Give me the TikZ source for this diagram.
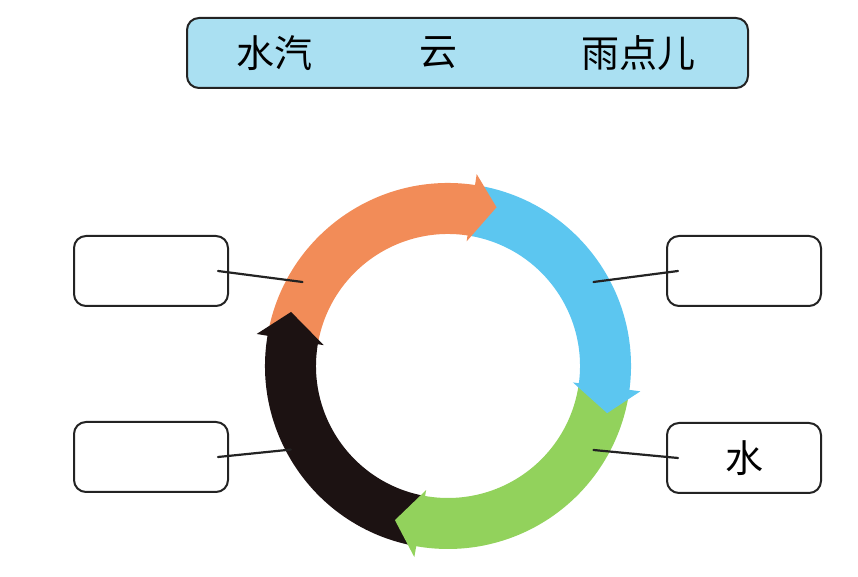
\documentclass[tikz,border=0pt]{standalone}
\usepackage{fontspec}
\newfontfamily\cjk{Noto Sans CJK SC}
\definecolor{Ofill}{RGB}{242,140,88}
\definecolor{Cfill}{RGB}{92,198,240}
\definecolor{Gfill}{RGB}{146,210,92}
\definecolor{Kfill}{RGB}{28,18,18}
\definecolor{Tfill}{RGB}{170,224,242}
\definecolor{Edge}{RGB}{35,35,35}
\tikzset{
  answerbox/.style={draw=Edge,line width=2pt,rounded corners=12pt,minimum width=154pt,minimum height=70pt,inner sep=0pt},
  cjktext/.style={font=\cjk\fontsize{38}{40}\selectfont,inner sep=0pt},
  lead/.style={draw=Edge,line width=2.2pt}
}

\begin{document}
\begin{tikzpicture}[x=1pt,y=1pt,line cap=round,line join=round]
\useasboundingbox (0,0) rectangle (858,577);
% title bar
\node[draw=Edge,line width=2pt,fill=Tfill,rounded corners=12pt,minimum width=561pt,minimum height=70pt] (title) at (467.5,524) {};
\node[cjktext] (wq) at (274,524) {水汽};
\node[cjktext] (yun) at (438,524) {云};
\node[cjktext] (ydr) at (638,524) {雨点儿};
% ring, bodies first
\begin{scope}[shift={(448,211)}]
\fill[Ofill] (169.5:183) arc[start angle=169.5,end angle=81,radius=183] -- (81:132) arc[start angle=81,end angle=169.5,radius=132] -- cycle;
\fill[Cfill] (80.5:183) arc[start angle=80.5,end angle=-8,radius=183] -- (-8:132) arc[start angle=-8,end angle=80.5,radius=132] -- cycle;
\fill[Gfill] (-8.5:183) arc[start angle=-8.5,end angle=-100.5,radius=183] -- (-100.5:132) arc[start angle=-100.5,end angle=-8.5,radius=132] -- cycle;
\fill[Kfill] (-101:183) arc[start angle=-101,end angle=-190,radius=183] -- (-190:132) arc[start angle=-190,end angle=-101,radius=132] -- cycle;
% heads on top
\fill[Ofill] (81.5:126) -- (81.5:194) -- (73:166) -- cycle;
\fill[Cfill] (-7.5:126) -- (-7.5:194) -- (-16.5:166) -- cycle;
\fill[Gfill] (-100:126) -- (-100:194) -- (-109:163) -- cycle;
\fill[Kfill] (170.5:126) -- (170.5:194) -- (161:166) -- cycle;
% where the leads end
\coordinate (po) at (150:168);
\coordinate (pc) at (30:168);
\coordinate (pg) at (-30:168);
\coordinate (pk) at (-152:178);
\end{scope}
% answer boxes
\node[answerbox] (lt) at (151,306) {};
\node[answerbox] (lb) at (151,120) {};
\node[answerbox] (rt) at (744,306) {};
\node[answerbox,cjktext] (rb) at (744,119) {水};
\draw[lead] ([xshift=-11pt]lt.east) -- (po);
\draw[lead] ([xshift=-11pt]lb.east) -- (pk);
\draw[lead] ([xshift=12pt]rt.west) -- (pc);
\draw[lead] ([xshift=12pt]rb.west) -- (pg);
\end{tikzpicture}
\end{document}
